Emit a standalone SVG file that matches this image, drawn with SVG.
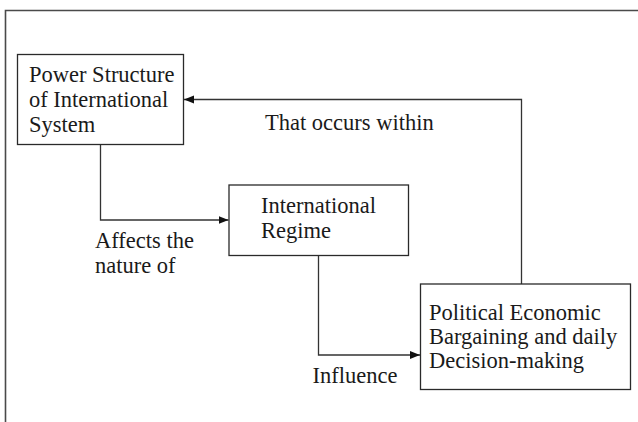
<svg xmlns="http://www.w3.org/2000/svg" width="638" height="422" viewBox="0 0 638 422">
<defs>
<style>
.frame{fill:none;stroke:#4a4a4a;stroke-width:1.6}
.box{fill:#fff;stroke:#2a2a2a;stroke-width:1.3}
.con{fill:none;stroke:#333;stroke-width:1.3}
.t{font-family:"Liberation Serif","Times New Roman",serif;font-size:22.5px;fill:#1a1a1a}
</style>
<marker id="arr" viewBox="0 0 10 10" refX="10" refY="5" markerWidth="10" markerHeight="10" markerUnits="userSpaceOnUse" orient="auto">
<path d="M0,1 L10,5 L0,9 Z" fill="#111"/>
</marker>
</defs>
<rect width="638" height="422" fill="#fff"/>
<path class="frame" d="M5.5,424 V10.5 H640"/>
<g id="connectors">
<path class="con" d="M100.5,144.5 V220 H228.5" marker-end="url(#arr)"/>
<path class="con" d="M318.5,256 V355 H420" marker-end="url(#arr)"/>
<path class="con" d="M521.5,284 V99.5 H184" marker-end="url(#arr)"/>
<text class="t" x="265" y="130">That occurs within</text>
<text class="t" x="95" y="248">Affects the</text>
<text class="t" x="95" y="273">nature of</text>
<text class="t" x="312.5" y="383">Influence</text>
</g>
<g id="power">
<rect class="box" x="17.5" y="54.5" width="166" height="90"/>
<text class="t" x="29" y="82">Power Structure</text>
<text class="t" x="29" y="107">of International</text>
<text class="t" x="29" y="132">System</text>
</g>
<g id="regime">
<rect class="box" x="229" y="185" width="179.5" height="70.5"/>
<text class="t" x="261" y="213">International</text>
<text class="t" x="261" y="238">Regime</text>
</g>
<g id="bargaining">
<rect class="box" x="420.5" y="284" width="210" height="105.5"/>
<text class="t" x="429" y="320">Political Economic</text>
<text class="t" x="429" y="344">Bargaining and daily</text>
<text class="t" x="429" y="368">Decision-making</text>
</g>
</svg>
